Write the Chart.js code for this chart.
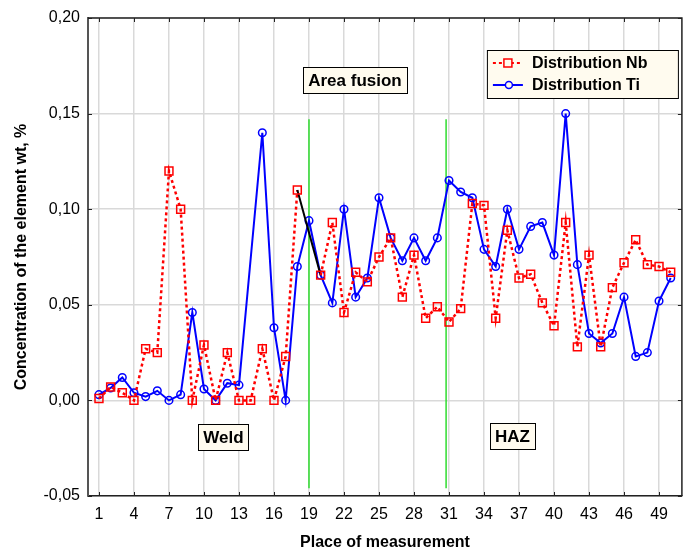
<!DOCTYPE html>
<html>
<head>
<meta charset="utf-8">
<script src="https://cdn.jsdelivr.net/npm/chart.js@4.4.1/dist/chart.umd.min.js"></script>
<style>
  html, body { margin: 0; padding: 0; background: #fff; }
  #wrap { width: 689px; height: 550px; }
</style>
</head>
<body>
<div id="wrap"><canvas id="chart"></canvas></div>
<script>
const places = [1, 2, 3, 4, 5, 6, 7, 8, 9, 10, 11, 12, 13, 14, 15, 16, 17, 18, 19, 20,
    21, 22, 23, 24, 25, 26, 27, 28, 29, 30, 31, 32, 33, 34, 35, 36, 37, 38, 39, 40,
    41, 42, 43, 44, 45, 46, 47, 48, 49, 50];

// Nb reading at 19 is missing, the gap is bridged by a black segment
const nbValues = [0.001, 0.007, 0.004, 0.000, 0.027, 0.025, 0.120, 0.100, 0.000, 0.029,
    0.000, 0.025, 0.000, 0.000, 0.027, 0.000, 0.023, 0.110, null, 0.0655,
    0.093, 0.046, 0.067, 0.062, 0.075, 0.085, 0.054, 0.076, 0.043, 0.049,
    0.041, 0.048, 0.103, 0.102, 0.043, 0.089, 0.064, 0.066, 0.051, 0.039,
    0.093, 0.028, 0.076, 0.028, 0.059, 0.072, 0.084, 0.071, 0.070, 0.067];

const tiValues = [0.003, 0.0065, 0.012, 0.004, 0.002, 0.005, 0.000, 0.003, 0.046, 0.006,
    0.000, 0.009, 0.008, null, 0.140, 0.038, 0.000, 0.070, 0.094, 0.0655,
    0.051, 0.100, 0.054, 0.064, 0.106, 0.085, 0.073, 0.085, 0.073, 0.085,
    0.115, 0.109, 0.106, 0.079, 0.070, 0.100, 0.079, 0.091, 0.093, 0.076,
    0.150, 0.071, 0.035, 0.030, 0.035, 0.054, 0.023, 0.025, 0.052, 0.064];

const xTickValues = [1, 4, 7, 10, 13, 16, 19, 22, 25, 28, 31, 34, 37, 40, 43, 46, 49];

// zone boundaries (green lines)
const boundaryX = [19.0, 30.75];
const boundaryTop = 0.147;
const boundaryBottom = -0.046;

const regionLabels = ['Weld', 'Area fusion', 'HAZ'];
const regionX = [11.67, 22.94, 36.43];
const regionY = [-0.0194, 0.1676, -0.0186];

const seriesNames = ['Distribution Nb', 'Distribution Ti'];

const FONT = 'Arial, "Liberation Sans", sans-serif';
const RED = '#ff0000';
const BLUE = '#0000ff';

function toPoints(values) {
    return places.map((p, i) => ({ x: p, y: values[i] }));
}

// with spanGaps the segment context reports the skipped point as p0DataIndex
function nbGap(ctx) {
    return nbValues[ctx.p0DataIndex] === null || nbValues[ctx.p1DataIndex] === null;
}

const boundarySets = boundaryX.map(x => ({
    label: 'boundary',
    data: [{ x: x, y: boundaryTop }, { x: x, y: boundaryBottom }],
    borderColor: '#2fdc2f',
    borderWidth: 1.5,
    pointRadius: 0,
    order: 5
}));

const framePlugin = {
    id: 'frame',
    afterDraw(chart) {
        const { ctx, chartArea: a, scales } = chart;
        ctx.save();
        ctx.strokeStyle = '#222';
        ctx.lineWidth = 1;
        // inner tick marks
        ctx.beginPath();
        xTickValues.forEach(v => {
            const px = Math.round(scales.x.getPixelForValue(v)) + 0.5;
            ctx.moveTo(px, a.bottom); ctx.lineTo(px, a.bottom - 4);
            ctx.moveTo(px, a.top); ctx.lineTo(px, a.top + 4);
        });
        scales.y.ticks.forEach(t => {
            const py = Math.round(scales.y.getPixelForValue(t.value)) + 0.5;
            ctx.moveTo(a.left, py); ctx.lineTo(a.left + 4, py);
            ctx.moveTo(a.right, py); ctx.lineTo(a.right - 4, py);
        });
        ctx.stroke();
        // top and right border
        ctx.lineWidth = 1.5;
        ctx.beginPath();
        ctx.moveTo(a.left, a.top); ctx.lineTo(a.right, a.top); ctx.lineTo(a.right, a.bottom);
        ctx.stroke();
        ctx.restore();
    }
};

const labelsPlugin = {
    id: 'regionLabels',
    afterDatasetsDraw(chart) {
        const { ctx, chartArea: a, scales } = chart;
        ctx.save();
        ctx.font = 'bold 17px ' + FONT;
        ctx.textBaseline = 'middle';
        ctx.textAlign = 'center';
        regionLabels.forEach((txt, i) => {
            const cx = scales.x.getPixelForValue(regionX[i]);
            const cy = scales.y.getPixelForValue(regionY[i]);
            const w = ctx.measureText(txt).width + 10;
            const h = 26;
            ctx.fillStyle = '#fffbef';
            ctx.fillRect(cx - w / 2, cy - h / 2, w, h);
            ctx.strokeStyle = '#000';
            ctx.lineWidth = 1;
            ctx.strokeRect(Math.round(cx - w / 2) + 0.5, Math.round(cy - h / 2) + 0.5, Math.round(w), h);
            ctx.fillStyle = '#000';
            ctx.fillText(txt, cx, cy + 1);
        });

        // legend box
        const lx = a.right - 195, ly = a.top + 32, lw = 191, lh = 48;
        ctx.fillStyle = '#fffbef';
        ctx.fillRect(lx, ly, lw, lh);
        ctx.strokeStyle = '#000';
        ctx.lineWidth = 1;
        ctx.strokeRect(lx + 0.5, ly + 0.5, lw, lh);
        ctx.textAlign = 'left';
        ctx.font = 'bold 16px ' + FONT;
        const rows = [ly + 13, ly + 35];
        // Nb sample
        ctx.strokeStyle = RED;
        ctx.lineWidth = 2;
        ctx.setLineDash([3, 3]);
        ctx.beginPath();
        ctx.moveTo(lx + 6, rows[0]); ctx.lineTo(lx + 36, rows[0]);
        ctx.stroke();
        ctx.setLineDash([]);
        ctx.lineWidth = 1.5;
        ctx.fillStyle = '#fffbef';
        ctx.fillRect(lx + 17, rows[0] - 4, 8, 8);
        ctx.strokeRect(lx + 17, rows[0] - 4, 8, 8);
        // Ti sample
        ctx.strokeStyle = BLUE;
        ctx.lineWidth = 2;
        ctx.beginPath();
        ctx.moveTo(lx + 6, rows[1]); ctx.lineTo(lx + 36, rows[1]);
        ctx.stroke();
        ctx.lineWidth = 1.5;
        ctx.beginPath();
        ctx.arc(lx + 22, rows[1], 3.5, 0, Math.PI * 2);
        ctx.fill();
        ctx.stroke();
        ctx.fillStyle = '#000';
        seriesNames.forEach((n, i) => ctx.fillText(n, lx + 45, rows[i] + 1));
        ctx.restore();
    }
};

new Chart(document.getElementById('chart'), {
    type: 'line',
    data: {
        datasets: [
            {
                label: seriesNames[1],
                data: toPoints(tiValues),
                borderColor: BLUE,
                borderWidth: 2,
                backgroundColor: 'transparent',
                pointStyle: 'circle',
                pointRadius: 3.8,
                pointBorderWidth: 1.5,
                pointBorderColor: BLUE,
                pointBackgroundColor: 'transparent',
                spanGaps: true,
                tension: 0,
                order: 1
            },
            {
                label: seriesNames[0],
                data: toPoints(nbValues),
                borderColor: RED,
                borderWidth: 2.5,
                borderDash: [3, 3],
                backgroundColor: 'transparent',
                pointStyle: 'rect',
                pointRadius: 5.6,
                pointBorderWidth: 1.5,
                pointBorderColor: RED,
                pointBackgroundColor: 'transparent',
                spanGaps: true,
                tension: 0,
                segment: {
                    borderColor: ctx => nbGap(ctx) ? '#000' : undefined,
                    borderDash: ctx => nbGap(ctx) ? [] : undefined,
                    borderWidth: ctx => nbGap(ctx) ? 2 : undefined
                },
                order: 0
            },
            ...boundarySets
        ]
    },
    options: {
        responsive: true,
        maintainAspectRatio: false,
        animation: false,
        layout: { padding: { left: 0, top: 18, right: 7, bottom: 0 } },
        plugins: {
            legend: { display: false },
            tooltip: { enabled: false }
        },
        scales: {
            x: {
                type: 'linear',
                min: 0.06,
                max: 50.96,
                afterBuildTicks: scale => { scale.ticks = xTickValues.map(v => ({ value: v })); },
                afterFit: scale => { scale.height = 54; },
                ticks: {
                    autoSkip: false,
                    maxRotation: 0,
                    padding: 9,
                    color: '#000',
                    font: { family: FONT, size: 16 },
                    callback: v => String(v)
                },
                grid: { color: '#d9d9d9', lineWidth: 1.5, drawTicks: false },
                border: { color: '#222', width: 1.5 },
                title: {
                    display: true,
                    text: 'Place of measurement',
                    color: '#000',
                    font: { family: FONT, size: 16, weight: 'bold' },
                    padding: { top: 0, bottom: -2 }
                }
            },
            y: {
                min: -0.05,
                max: 0.2,
                afterFit: scale => { scale.width = 88; },
                ticks: {
                    stepSize: 0.05,
                    padding: 8,
                    color: '#000',
                    font: { family: FONT, size: 16 },
                    callback: v => (Math.abs(v) < 1e-9 ? 0 : v).toFixed(2).replace('.', ',')
                },
                grid: { color: '#d9d9d9', lineWidth: 1.5, drawTicks: false },
                border: { color: '#555', width: 2 },
                title: {
                    display: true,
                    text: 'Concentration of the element wt, %',
                    color: '#000',
                    font: { family: FONT, size: 16, weight: 'bold' },
                    padding: { top: 12, bottom: 0 }
                }
            }
        }
    },
    plugins: [labelsPlugin, framePlugin]
});
</script>
</body>
</html>
